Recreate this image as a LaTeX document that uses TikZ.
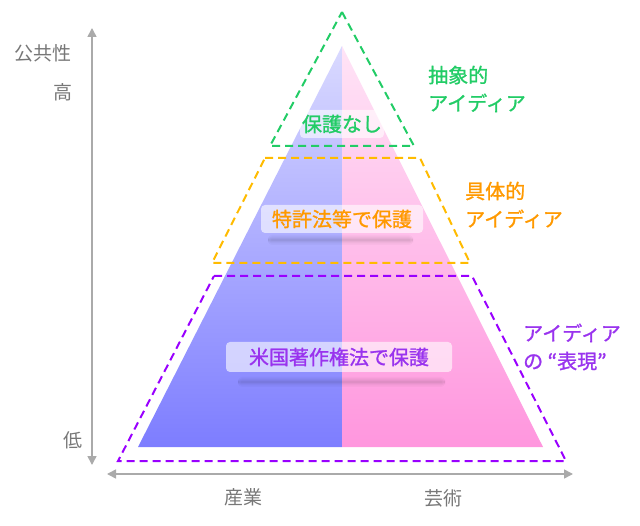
\documentclass[tikz,border=0pt]{standalone}
\usepackage{fontspec}
\setmainfont{Noto Sans CJK JP}
\newfontfamily\medfont{Noto Sans CJK JP}[FakeBold=1.2]
\usetikzlibrary{arrows.meta}
\definecolor{axisgray}{HTML}{AAAAAA}
\definecolor{txtgray}{HTML}{777777}
\definecolor{grn}{HTML}{22CC66}
\definecolor{org}{HTML}{FFBB00}
\definecolor{orgtxt}{HTML}{FF9900}
\definecolor{pur}{HTML}{9900FF}
\definecolor{purtxt}{HTML}{9933EE}
\begin{document}
\begin{tikzpicture}[x=1pt,y=-1pt,
  axis/.style={axisgray,line width=1.6pt,{Triangle[length=9pt,width=9pt]}-{Triangle[length=9pt,width=9pt]}},
  axlabel/.style={txtgray,font=\fontsize{19}{22}\selectfont,inner sep=0pt},
  zone/.style={line width=2pt,dash pattern=on 8pt off 5pt,line join=miter},
  bandbox/.style={fill=white,fill opacity=0.6,text opacity=1,rounded corners=4pt,inner sep=0pt,font=\medfont\fontsize{20}{24}\selectfont},
  sidelabel/.style={align=left,anchor=west,inner sep=0pt,font=\medfont\fontsize{20}{28}\selectfont},
  shadowbar/.style={fill=black,rounded corners=4pt}
]
\useasboundingbox (0,0) rectangle (640,526);
% pyramid halves
\shade[top color={rgb,255:red,218;green,218;blue,255},bottom color={rgb,255:red,125;green,125;blue,255}]
  (342,46) -- (138,447) -- (342,447) -- cycle;
\shade[top color={rgb,255:red,255;green,228;blue,246},bottom color={rgb,255:red,255;green,150;blue,222}]
  (342,46) -- (543,447) -- (342,447) -- cycle;
% shadows of band labels
\foreach \o/\h in {0.025/10,0.03/7,0.035/4.5,0.04/2}{
  \fill[shadowbar,opacity=\o] (268,240-\h/2) rectangle (413,240+\h/2);
  \fill[shadowbar,opacity=\o] (238,382-\h/2) rectangle (445,382+\h/2);
}
% zones
\draw[zone,grn] (342,12) -- (414,146) -- (270,146) -- cycle;
\draw[zone,org] (265,158) -- (420,158) -- (470,263) -- (212,263) -- cycle;
\draw[zone,pur] (214,276) -- (472,276) -- (566,461) -- (118,461) -- cycle;
% band labels
\node[bandbox,minimum width=84pt,minimum height=28pt,text=grn] (l1) at (342,124) {保護なし};
\node[bandbox,minimum width=162pt,minimum height=28pt,text=orgtxt] (l2) at (342,219) {特許法等で保護};
\node[bandbox,minimum width=226pt,minimum height=30pt,text=purtxt] (l3) at (339,357) {米国著作権法で保護};
% side labels
\node[sidelabel,text=grn] (s1) at (428,89) {抽象的\\アイディア};
\node[sidelabel,text=orgtxt] (s2) at (465,205) {具体的\\アイディア};
\node[sidelabel,text=purtxt] (s3) at (523,347) {アイディア\\の “表現”};
% axes
\coordinate (vtop) at (92,28);
\coordinate (vbot) at (92,465);
\coordinate (hl) at (107,474);
\coordinate (hr) at (573,474);
\draw[axis] (vbot) -- (vtop);
\draw[axis] (hl) -- (hr);
\node[axlabel] (pub) at (43,53) {公共性};
\node[axlabel] (hi) at (63,92) {高};
\node[axlabel] (lo) at (73,440) {低};
\node[axlabel] (ind) at (243,497) {産業};
\node[axlabel] (art) at (443,498) {芸術};
\end{tikzpicture}
\end{document}
